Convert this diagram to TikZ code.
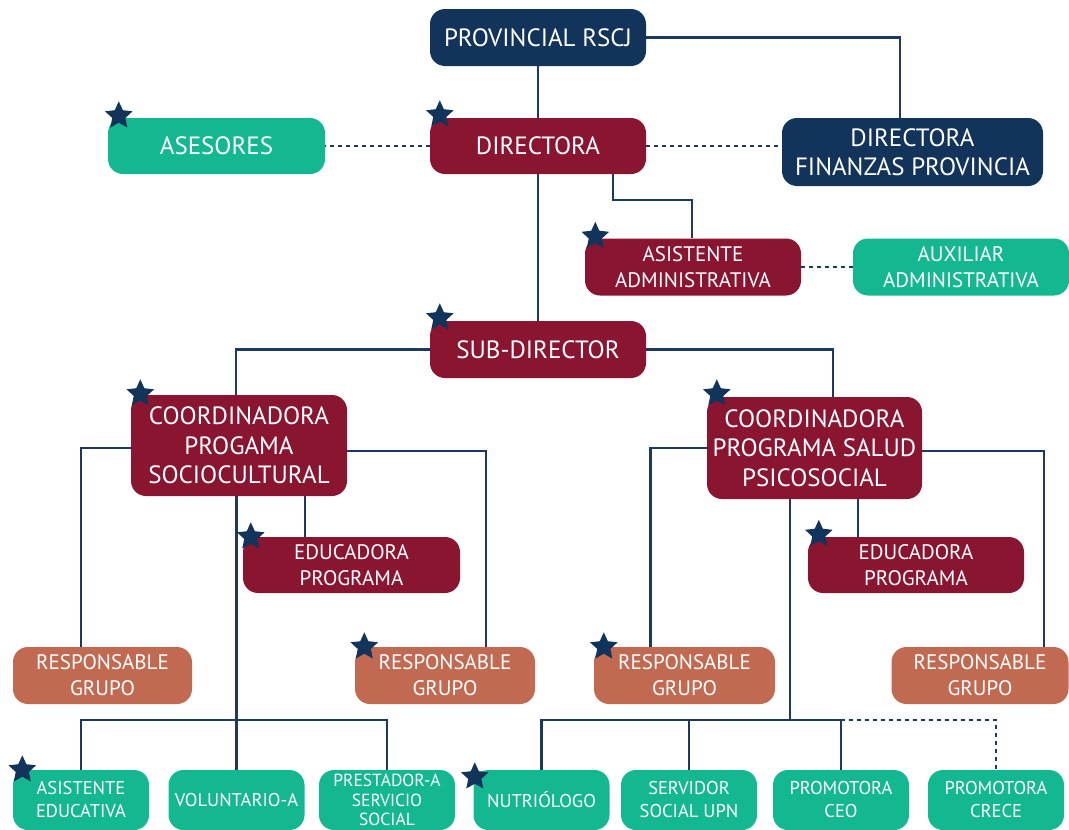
\documentclass[tikz,border=0pt]{standalone}
\usepackage{fontspec}
\setmainfont{PT Sans}
\setsansfont{PT Sans}
\usepackage{tikz}
\usetikzlibrary{positioning,shapes.geometric,backgrounds}
\definecolor{navyc}{HTML}{12335A}
\definecolor{wine}{HTML}{8A1531}
\definecolor{mint}{HTML}{14B890}
\definecolor{clay}{HTML}{C26A51}
\definecolor{wire}{HTML}{1B3A60}
\tikzset{
	every node/.style = {inner sep = 0, align=center, text=white},
	box/.style = {rounded corners=15pt, minimum height=57pt},
	bigtext/.style = {font=\fontsize{25}{29.5}\selectfont},
	midtext/.style = {font=\fontsize{21}{26}\selectfont},
	smalltext/.style = {font=\fontsize{18.5}{23}\selectfont},
	tinytext/.style = {font=\fontsize{17.5}{19.5}\selectfont},
	basebox/.style = {box, smalltext, fill=mint, minimum width=136pt, minimum height=60pt},
	respbox/.style = {box, midtext, fill=clay},
	link/.style = {draw=wire, line width=2.5pt},
	dotlink/.style = {link, line width=2.7pt, dash pattern=on 3.5pt off 4.5pt},
	badge/.style = {star, star points=5, star point ratio=2.1, fill=navyc, minimum size=29pt}
}

\begin{document}
\begin{tikzpicture}[x=1pt, y=-1pt]
	\useasboundingbox (0,0) rectangle (1069,830);
	% top levels
	\node[box, bigtext, fill=navyc, minimum width=216pt] (prov) at (538,37.5) {PROVINCIAL RSCJ};
	\node[box, bigtext, fill=mint, minimum width=217pt, minimum height=56pt] (asesores) at (216.5,146) {ASESORES};
	\node[box, bigtext, fill=wine, minimum width=216pt, minimum height=56pt] (directora) at (538,146) {DIRECTORA};
	\node[box, bigtext, fill=navyc, minimum width=261pt, minimum height=68pt] (finanzas) at (912.5,152) {DIRECTORA\\FINANZAS PROVINCIA};
	\node[box, midtext, fill=wine, minimum width=216pt] (asistadm) at (693,267) {ASISTENTE\\ADMINISTRATIVA};
	\node[box, midtext, fill=mint, minimum width=216pt] (auxadm) at (961,267) {AUXILIAR\\ADMINISTRATIVA};
	\node[box, bigtext, fill=wine, minimum width=216pt] (subdir) at (538,349.5) {SUB-DIRECTOR};
	% programs
	\node[box, bigtext, fill=wine, minimum width=216pt, minimum height=101pt] (coordsoc) at (239,445.5) {COORDINADORA\\PROGAMA\\SOCIOCULTURAL};
	\node[box, bigtext, fill=wine, minimum width=215pt, minimum height=102pt] (coordsal) at (814.5,448) {COORDINADORA\\PROGRAMA SALUD\\PSICOSOCIAL};
	\node[box, midtext, fill=wine, minimum width=217pt, minimum height=56pt] (educL) at (351.5,565) {EDUCADORA\\PROGRAMA};
	\node[box, midtext, fill=wine, minimum width=216pt, minimum height=56pt] (educR) at (916,565) {EDUCADORA\\PROGRAMA};
	\node[respbox, minimum width=179pt] (resp1) at (102.5,675.5) {RESPONSABLE\\GRUPO};
	\node[respbox, minimum width=180pt] (resp2) at (445,675.5) {RESPONSABLE\\GRUPO};
	\node[respbox, minimum width=181pt] (resp3) at (684.5,675.5) {RESPONSABLE\\GRUPO};
	\node[respbox, minimum width=177pt] (resp4) at (980,675.5) {RESPONSABLE\\GRUPO};
	% bottom row
	\node[basebox] (asisted) at (81,800) {ASISTENTE\\EDUCATIVA};
	\node[basebox] (volunt) at (236.5,800) {VOLUNTARIO-A};
	\node[basebox, tinytext] (prestador) at (387,800) {PRESTADOR-A\\SERVICIO\\SOCIAL};
	\node[basebox] (nutri) at (541.5,800) {NUTRIÓLOGO};
	\node[basebox] (servidor) at (689,800) {SERVIDOR\\SOCIAL UPN};
	\node[basebox] (promceo) at (841,800) {PROMOTORA\\CEO};
	\node[basebox] (promcrece) at (996,800) {PROMOTORA\\CRECE};
	\coordinate (busS) at (236.5,720);
	\coordinate (busH) at (790,720);

	\begin{pgfonlayer}{background}
		\draw[link] (prov.south) -- (subdir.north);
		\draw[link] (prov.east) -| ([xshift=-12.5pt]finanzas.north);
		\draw[link] ([xshift=75pt]directora.south) -- ++(0,26) -| ([xshift=-1pt]asistadm.north);
		\draw[dotlink] (directora.west) -- (asesores.east);
		\draw[dotlink] (directora.east) -- (finanzas.west |- directora.east);
		\draw[dotlink] (asistadm.east) -- (auxadm.west);
		\draw[link] (subdir.west) -| ([xshift=-3pt]coordsoc.north);
		\draw[link] (subdir.east) -| ([xshift=18.5pt]coordsal.north);
		% sociocultural
		\draw[link] ([yshift=-2.5pt]coordsoc.west) -| ([xshift=-21.5pt]resp1.north);
		\draw[link] ([yshift=-5.5pt]coordsoc.east) -| ([xshift=41pt]resp2.north);
		\draw[link] ([xshift=-46.5pt]educL.north) |- (coordsoc.center);
		\draw[link] (asisted.north) |- (busS) -| (prestador.north);
		\draw[link] (volunt.north) -- (volunt.north |- coordsoc.center);
		% salud
		\draw[link] (coordsal.west) -| ([xshift=-34pt]resp3.north);
		\draw[link] ([yshift=-3pt]coordsal.east) -| ([xshift=64pt]resp4.north);
		\draw[link] ([xshift=-58pt]educR.north) |- (coordsal.center);
		\draw[link] (nutri.north) |- (busH) -| (promceo.north);
		\draw[link] (servidor.north) -- (servidor.north |- busH);
		\draw[link] (busH) -- (busH |- coordsal.center);
		\draw[dotlink] (promceo.north |- busH) -| (promcrece.north);
	\end{pgfonlayer}

	% stars
	\foreach \n/\dx/\dy in {asesores/11/2, directora/10/3, asistadm/10.5/2, subdir/10/3,
		coordsoc/9.5/1, coordsal/10/3, educL/8/0, educR/11/2.5, resp2/9.5/0,
		resp3/10/0, asisted/9.5/0, nutri/1.5/-7}
		\node[badge] at ([xshift=\dx pt, yshift=\dy pt]\n.north west) {};
\end{tikzpicture}
\end{document}
